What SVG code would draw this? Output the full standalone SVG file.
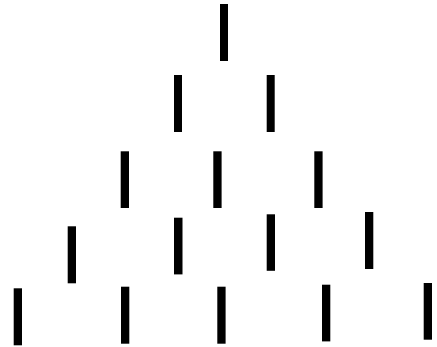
<svg xmlns="http://www.w3.org/2000/svg" width="437" height="347" viewBox="0 0 437 347">
<style>
.bar{fill:#000;}
</style>
<rect width="437" height="347" fill="#fff"/>
<g id="row1">
<rect class="bar" x="220" y="4" width="8" height="57"/>
</g>
<g id="row2">
<rect class="bar" x="174" y="75" width="8" height="57"/>
<rect class="bar" x="266.7" y="75" width="8" height="57"/>
</g>
<g id="row3">
<rect class="bar" x="120.7" y="151.3" width="8.3" height="56.7"/>
<rect class="bar" x="213.3" y="151.3" width="8.3" height="56.7"/>
<rect class="bar" x="314.3" y="151.3" width="8.3" height="56.7"/>
</g>
<g id="row4">
<rect class="bar" x="67.7" y="226.3" width="8.3" height="57"/>
<rect class="bar" x="174" y="217.7" width="8.5" height="56.7"/>
<rect class="bar" x="266.7" y="214.3" width="8.3" height="56.5"/>
<rect class="bar" x="365" y="212" width="8.3" height="57"/>
</g>
<g id="row5">
<rect class="bar" x="13.7" y="288.3" width="8.3" height="57"/>
<rect class="bar" x="121" y="286.7" width="8.3" height="57"/>
<rect class="bar" x="217.3" y="286.7" width="8.3" height="57"/>
<rect class="bar" x="322" y="284.7" width="8.3" height="56.7"/>
<rect class="bar" x="423.7" y="283" width="8.3" height="56.7"/>
</g>
</svg>
